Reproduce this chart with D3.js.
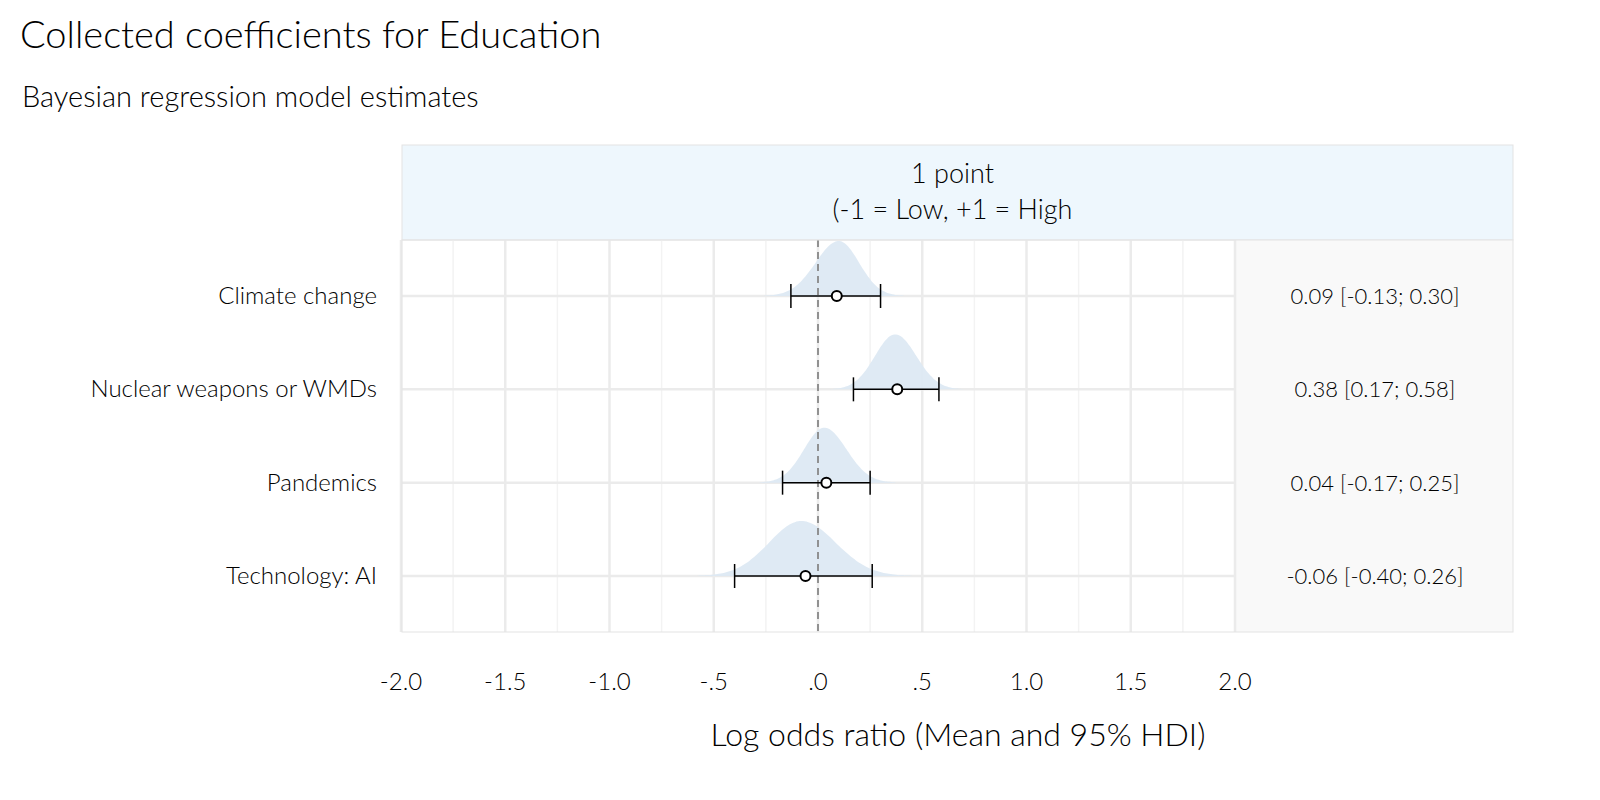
<!DOCTYPE html>
<html><head><meta charset="utf-8">
<script src="https://cdn.jsdelivr.net/npm/d3@7"></script>
<style>body{margin:0;background:#fff;font-family:Lato,"Noto Sans",sans-serif;}</style>
</head><body>
<svg id="chart" width="1600" height="800"></svg>
<script>
// data
var outcomes = ["Climate change", "Nuclear weapons or WMDs", "Pandemics", "Technology: AI"];
var means = [0.09, 0.38, 0.04, -0.06];
var lower = [-0.13, 0.17, -0.17, -0.40];
var upper = [0.30, 0.58, 0.25, 0.26];
var peaks = [0.10, 0.37, 0.03, -0.08];
var xTicks = [-2, -1.5, -1, -0.5, 0, 0.5, 1, 1.5, 2];
var xTickLabels = ["-2.0", "-1.5", "-1.0", "-.5", ".0", ".5", "1.0", "1.5", "2.0"];

var svg = d3.select('#chart');
var panelL = 402, panelR = 1513, stripT = 145, stripB = 240, panelB = 632;

var x = d3.scaleLinear().domain([-2, 2]).range([401, 1235]);
var y = d3.scalePoint().domain(outcomes).range([296, 576]);
var f2 = function(v){ return d3.format('.2f')(v).replace('\u2212', '-'); };

// title
svg.append('text').attr('x', 20).attr('y', 48).attr('font-size', 38).attr('font-weight', 300)
	.text('Collected coefficients for Education');
svg.append('text').attr('x', 22).attr('y', 107).attr('font-size', 29).attr('font-weight', 300)
	.text('Bayesian regression model estimates');

// strip
svg.append('rect').attr('x', panelL).attr('y', stripT).attr('width', panelR - panelL).attr('height', stripB - stripT)
	.attr('fill', '#eef7fd').attr('stroke', '#e3e3e3');
svg.append('text').attr('x', (panelL + panelR) / 2 - 5).attr('y', 183).attr('text-anchor', 'middle')
	.attr('font-size', 27).attr('font-weight', 300).text('1 point');
svg.append('text').attr('x', (panelL + panelR) / 2 - 5).attr('y', 219).attr('text-anchor', 'middle')
	.attr('font-size', 27).attr('font-weight', 300).text('(-1 = Low, +1 = High');

// panel bg
svg.append('rect').attr('x', 1235).attr('y', stripB).attr('width', panelR - 1235).attr('height', panelB - stripB)
	.attr('fill', '#f9f9f9');

// grid
var minor = d3.range(-1.75, 2, 0.5);
svg.selectAll('.gminor').data(minor).enter().append('line')
	.attr('x1', function(d){return x(d);}).attr('x2', function(d){return x(d);})
	.attr('y1', stripB).attr('y2', panelB).attr('stroke', '#f3f3f3').attr('stroke-width', 1.5);
svg.selectAll('.gmajor').data(xTicks).enter().append('line')
	.attr('x1', function(d){return x(d);}).attr('x2', function(d){return x(d);})
	.attr('y1', stripB).attr('y2', panelB).attr('stroke', '#ebebeb').attr('stroke-width', 2.5);
svg.selectAll('.gh').data(outcomes).enter().append('line')
	.attr('x1', panelL).attr('x2', 1235)
	.attr('y1', function(d){return y(d);}).attr('y2', function(d){return y(d);})
	.attr('stroke', '#ebebeb').attr('stroke-width', 2.5);

// densities
var area = d3.area().x(function(p){return x(p[0]);}).y0(function(p){return p[2];}).y1(function(p){return p[2] - p[1];}).curve(d3.curveBasis);
outcomes.forEach(function(o, i) {
	var sdL = (peaks[i] - lower[i]) / 1.96 * 0.95, sdR = (upper[i] - peaks[i]) / 1.96 * 0.95;
	var pts = d3.range(-3.2, 3.21, 0.1).map(function(z) {
		var sd = z < 0 ? sdL : sdR;
		return [peaks[i] + z * sd, 55 * Math.exp(-z * z / 2), y(o)];
	});
	svg.append('path').datum(pts).attr('d', area).attr('fill', '#dde9f3').attr('opacity', 0.95);
});

// zero line
svg.append('line').attr('x1', x(0)).attr('x2', x(0)).attr('y1', stripB).attr('y2', panelB)
	.attr('stroke', '#888').attr('stroke-width', 1.8).attr('stroke-dasharray', '7,5');

// intervals
outcomes.forEach(function(o, i) {
	var yy = y(o), g = svg.append('g');
	g.append('line').attr('x1', x(lower[i])).attr('x2', x(upper[i])).attr('y1', yy).attr('y2', yy).attr('stroke', '#000').attr('stroke-width', 1.5);
	[lower[i], upper[i]].forEach(function(v) {
		g.append('line').attr('x1', x(v)).attr('x2', x(v)).attr('y1', yy - 12).attr('y2', yy + 12).attr('stroke', '#000').attr('stroke-width', 1.5);
	});
	g.append('circle').attr('cx', x(means[i])).attr('cy', yy).attr('r', 5).attr('fill', '#fff').attr('stroke', '#000').attr('stroke-width', 2);
	svg.append('text').attr('x', 1375).attr('y', yy + 8).attr('text-anchor', 'middle').attr('font-size', 22).attr('font-weight', 300)
		.text(f2(means[i]) + ' [' + f2(lower[i]) + '; ' + f2(upper[i]) + ']');
});

// panel border
svg.append('rect').attr('x', panelL).attr('y', stripB).attr('width', panelR - panelL).attr('height', panelB - stripB)
	.attr('fill', 'none').attr('stroke', '#e3e3e3');

// y labels
svg.selectAll('.yl').data(outcomes).enter().append('text')
	.attr('x', 377).attr('y', function(d){return y(d) + 8;}).attr('text-anchor', 'end')
	.attr('font-size', 24).attr('font-weight', 300).text(function(d){return d;});

// x axis
svg.selectAll('.xl').data(xTicks).enter().append('text')
	.attr('x', function(d){return x(d);}).attr('y', 690).attr('text-anchor', 'middle')
	.attr('font-size', 24).attr('font-weight', 300).text(function(d, i){return xTickLabels[i];});
svg.append('text').attr('x', 958).attr('y', 746).attr('text-anchor', 'middle').attr('font-size', 32).attr('font-weight', 300)
	.text('Log odds ratio (Mean and 95% HDI)');
</script>
</body></html>
